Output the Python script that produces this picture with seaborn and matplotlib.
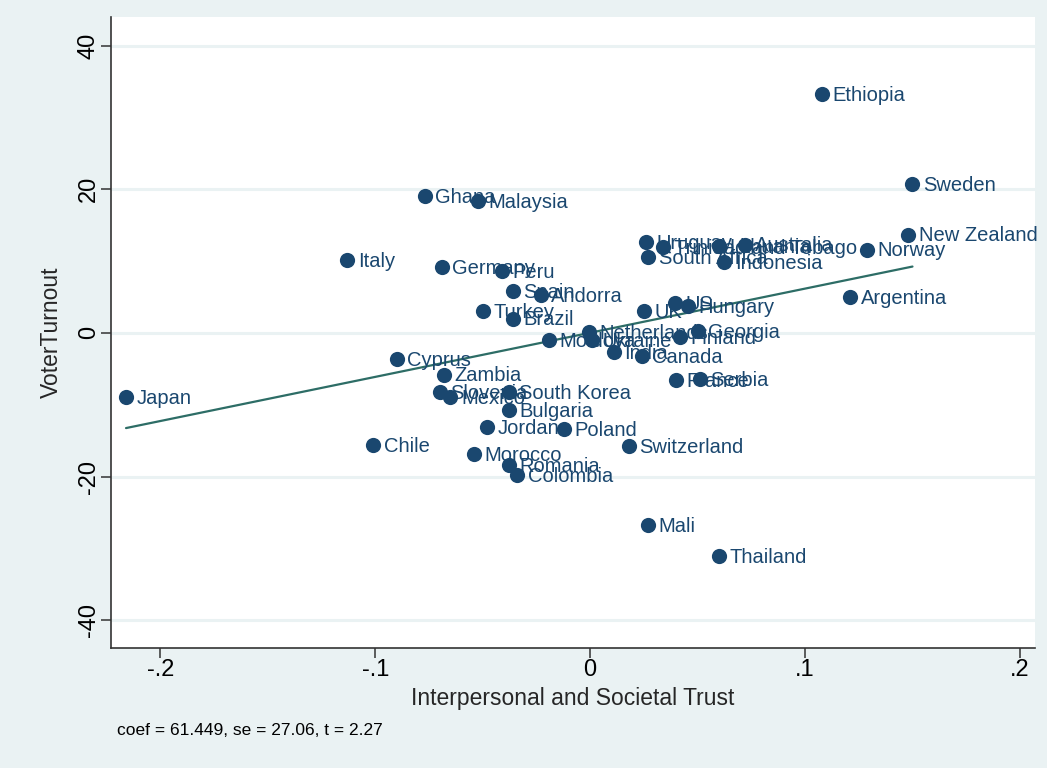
import numpy as np
import pandas as pd
import matplotlib
matplotlib.use("Agg")
import matplotlib.pyplot as plt
import seaborn as sns

# Added-variable values: trust residual vs turnout residual
countries = [
    "Ethiopia", "Sweden", "New Zealand", "Norway", "Argentina",
    "Ghana", "Malaysia", "Italy", "Germany", "Peru", "Spain", "Andorra",
    "Turkey", "Brazil", "Cyprus", "Zambia", "Slovenia", "Mexico",
    "South Korea", "Bulgaria", "Jordan", "Poland", "Chile", "Morocco",
    "Romania", "Colombia", "Switzerland", "Mali", "Thailand", "Japan",
    "UK", "US", "Hungary", "Georgia", "Finland", "Netherlands", "Moldova",
    "Ukraine", "India", "Canada", "France", "Serbia", "Uruguay",
    "South Africa", "Trinidad and Tobago", "Lithuania", "Australia",
    "Indonesia",
]
trust = [
    0.108, 0.150, 0.148, 0.129, 0.121,
    -0.077, -0.052, -0.113, -0.069, -0.041, -0.036, -0.023,
    -0.050, -0.036, -0.090, -0.068, -0.070, -0.065,
    -0.038, -0.038, -0.048, -0.012, -0.101, -0.054,
    -0.038, -0.034, 0.018, 0.027, 0.060, -0.216,
    0.025, 0.0396, 0.0456, 0.050, 0.042, -0.0005, -0.019,
    0.001, 0.011, 0.024, 0.040, 0.051, 0.026,
    0.027, 0.034, 0.060, 0.072,
    0.0624,
]
turnout = [
    33.2, 20.7, 13.7, 11.6, 5.0,
    19.0, 18.4, 10.1, 9.2, 8.6, 5.8, 5.3,
    3.1, 2.0, -3.6, -5.8, -8.2, -8.9,
    -8.2, -10.8, -13.1, -13.4, -15.6, -16.9,
    -18.4, -19.8, -15.8, -26.7, -31.1, -8.9,
    3.1, 4.2, 3.8, 0.3, -0.6, 0.1, -1.0,
    -1.0, -2.7, -3.2, -6.6, -6.4, 12.6,
    10.6, 12.0, 12.1, 12.3,
    9.9,
]
coef, se, tstat = 61.449, 27.06, 2.27

x_ticks = [-0.2, -0.1, 0, 0.1, 0.2]
x_tick_labels = ["-.2", "-.1", "0", ".1", ".2"]
y_ticks = [-40, -20, 0, 20, 40]

df = pd.DataFrame({"country": countries, "trust": trust, "turnout": turnout})

navy = "#1a476f"
teal = "#2d6d66"
bg = "#eaf2f3"

sns.set_theme(style="white")
plt.rcParams["font.family"] = ["Liberation Sans", "DejaVu Sans"]

fig = plt.figure(figsize=(10.47, 7.68), dpi=100, facecolor=bg)
ax = fig.add_axes([0.106, 0.156, 0.8825, 0.822])
ax.set_facecolor("white")

# horizontal grid at the y ticks
for yv in y_ticks:
    ax.axhline(yv, color=bg, lw=2.2, zorder=0)

sns.scatterplot(data=df, x="trust", y="turnout", ax=ax, color=navy,
                s=120, edgecolor=navy, linewidth=0, zorder=3, legend=False)

for name, xv, yv in zip(countries, trust, turnout):
    ax.annotate(name, (xv, yv), xytext=(7.5, -1), textcoords="offset points",
                va="center", ha="left", fontsize=14.5, color=navy, zorder=4)

# fitted line with the reported slope through the centroid
xm, ym = np.mean(trust), np.mean(turnout)
fx = np.array([min(trust), max(trust)])
fy = ym + coef * (fx - xm)
sns.lineplot(x=fx, y=fy, ax=ax, color=teal, lw=1.6, zorder=2)

ax.set_xlim(-0.223, 0.207)
ax.set_ylim(-43.9, 44.0)
ax.set_xticks(x_ticks)
ax.set_xticklabels(x_tick_labels)
ax.set_yticks(y_ticks)
ax.set_yticklabels([str(v) for v in y_ticks], rotation=90, va="center")

for side in ["top", "right"]:
    ax.spines[side].set_visible(False)
for side in ["left", "bottom"]:
    ax.spines[side].set_color("#333333")
    ax.spines[side].set_linewidth(1.2)

ax.tick_params(axis="both", which="major", direction="out", length=7,
               width=1.1, color="#333333", labelsize=17, labelcolor="black",
               bottom=True, left=True, pad=1)

ax.set_xlabel("Interpersonal and Societal Trust", fontsize=16.5, labelpad=4)
ax.set_ylabel("VoterTurnout", fontsize=16.5, labelpad=11)

fig.text(0.112, 0.049, f"coef = {coef}, se = {se}, t = {tstat}",
         fontsize=12.5, color="black", ha="left", va="center")

fig.savefig("out.png", dpi=100, facecolor=bg)
